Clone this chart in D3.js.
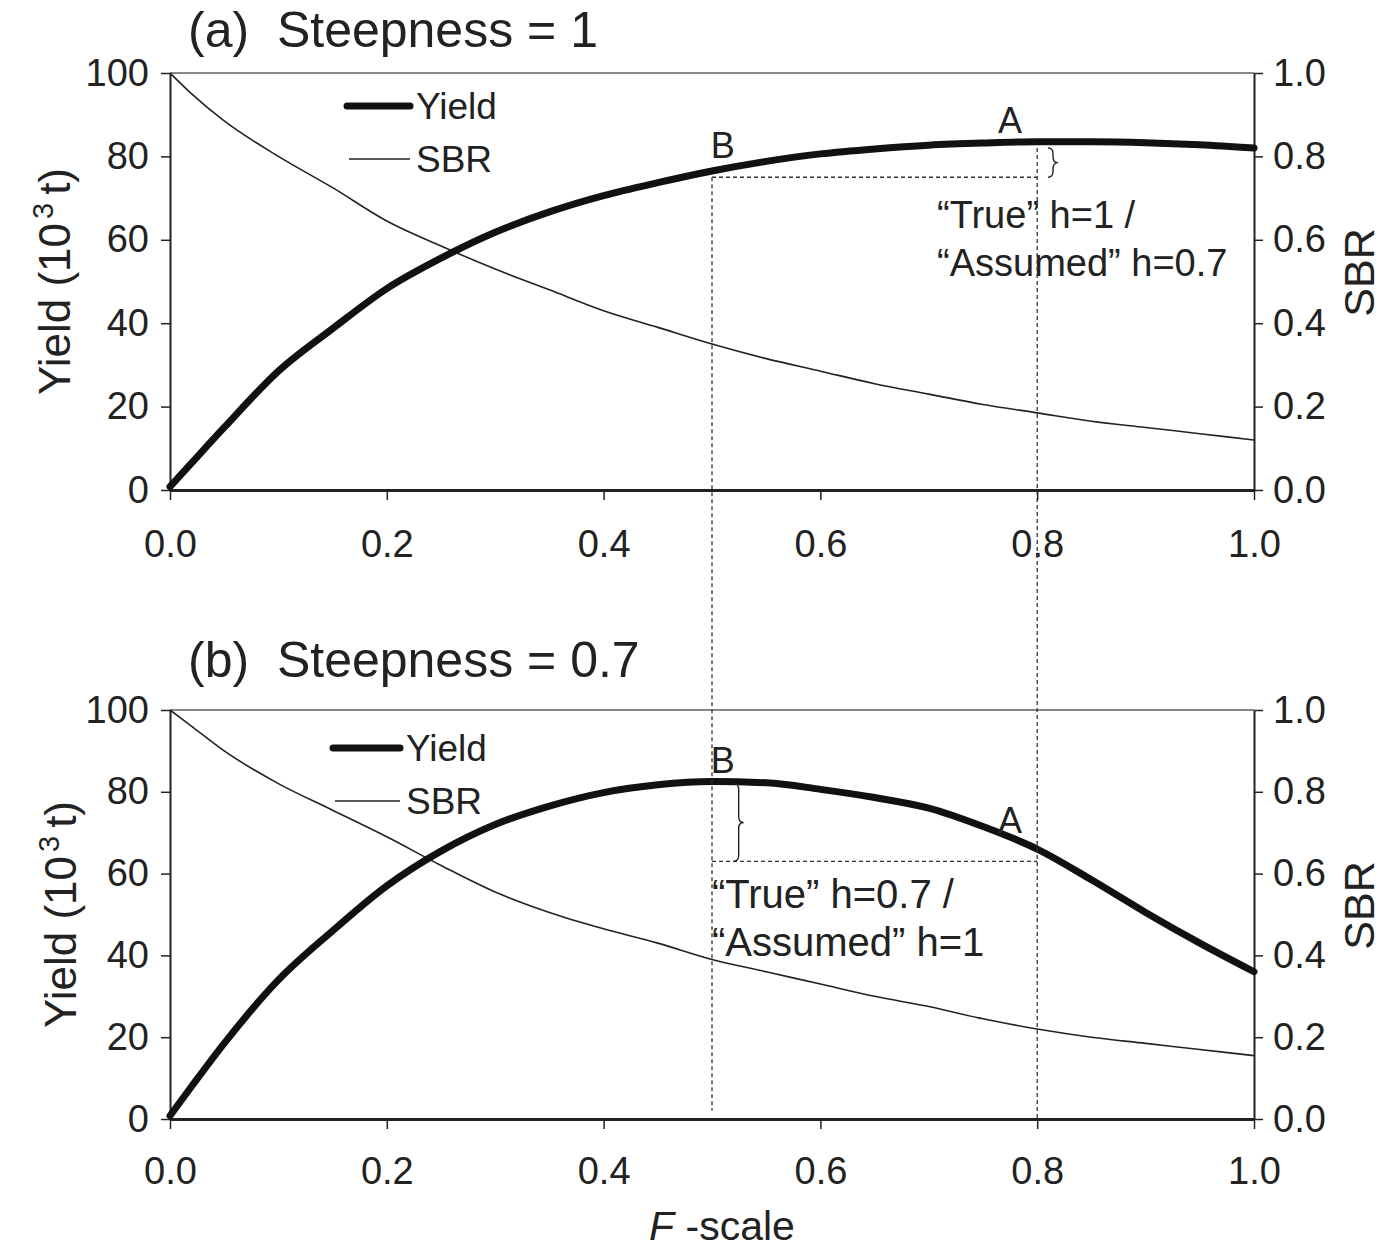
<!DOCTYPE html>
<html>
<head>
<meta charset="utf-8">
<script src="https://cdn.jsdelivr.net/npm/d3@7"></script>
<style>
  body { margin: 0; background: #fff; }
  text { font-family: "Liberation Sans", Arial, sans-serif; fill: #222; white-space: pre; }
</style>
</head>
<body>
<div id="chart"></div>
<script>

var fScale = [0, 0.02, 0.05, 0.1, 0.15, 0.2, 0.25, 0.3, 0.35, 0.4, 0.45, 0.5,
              0.55, 0.6, 0.65, 0.7, 0.75, 0.8, 0.85, 0.9, 0.95, 1.0];

// panel (a) steepness = 1
var yieldA = [0.8, 6.5, 15, 28.5, 38.7, 48.3, 55.6, 61.8, 66.7, 70.6, 73.7, 76.5,
              78.8, 80.6, 81.8, 82.7, 83.2, 83.5, 83.5, 83.3, 82.8, 82];
var sbrA   = [1.0, 0.95, 0.885, 0.80, 0.725, 0.645, 0.585, 0.53, 0.48, 0.43, 0.39, 0.35,
              0.315, 0.285, 0.255, 0.23, 0.205, 0.185, 0.165, 0.15, 0.135, 0.12];

// panel (b) steepness = 0.7
var yieldB = [0.8, 8, 18.5, 34, 46, 57, 65.5, 72, 76.5, 79.8, 81.7, 82.5,
              82.2, 80.6, 78.6, 76, 71.5, 66, 58.5, 50.5, 43, 36];
var sbrB   = [1.0, 0.96, 0.9, 0.82, 0.755, 0.69, 0.62, 0.555, 0.505, 0.465, 0.43, 0.39,
              0.36, 0.33, 0.30, 0.275, 0.245, 0.22, 0.2, 0.185, 0.17, 0.155];

// axis ticks
var xTicks = [0, 0.2, 0.4, 0.6, 0.8, 1.0];
var yieldTicks = [0, 20, 40, 60, 80, 100];
var sbrTicks = [0, 0.2, 0.4, 0.6, 0.8, 1.0];

// reference points B and A (F-scale) and the yield levels marked by the dashed lines
var refF = [0.5, 0.8];
var levelsA = [75, 82];   // B level, A level (brace ends)
var levelsB = [63, 82];   // dashed level, B level (brace ends)

var W = 1397, H = 1252;
var left = 170, right = 1254;

var svg = d3.select("#chart")
  .append("svg")
    .attr("width", W)
    .attr("height", H);

svg.append("rect").attr("width", W).attr("height", H).attr("fill", "#fff");

var x = d3.scaleLinear().domain([0, 1]).range([left, right]);

function bracePath(bx, y0, y1, w) {
  var ym = (y0 + y1) / 2, r = Math.min(6, (y1 - y0) / 4);
  return "M" + bx + "," + y0 +
    " Q" + (bx + w) + "," + y0 + " " + (bx + w) + "," + (y0 + r) +
    " L" + (bx + w) + "," + (ym - r) +
    " Q" + (bx + w) + "," + ym + " " + (bx + 2 * w) + "," + ym +
    " Q" + (bx + w) + "," + ym + " " + (bx + w) + "," + (ym + r) +
    " L" + (bx + w) + "," + (y1 - r) +
    " Q" + (bx + w) + "," + y1 + " " + bx + "," + y1;
}

function drawPanel(p) {
  var y = d3.scaleLinear().domain([0, 100]).range([p.bottom, p.top]);
  var y2 = d3.scaleLinear().domain([0, 1]).range([p.bottom, p.top]);
  var g = svg.append("g");

  // top frame line
  g.append("line")
    .attr("x1", left).attr("x2", right)
    .attr("y1", p.top).attr("y2", p.top)
    .attr("stroke", "#888").attr("stroke-width", 2);

  // left axis
  var la = g.append("g")
    .attr("transform", "translate(" + left + ",0)")
    .call(d3.axisLeft(y).tickValues(yieldTicks).tickSize(9).tickSizeOuter(0).tickPadding(12)
      .tickFormat(d3.format("d")));
  // right axis
  var ra = g.append("g")
    .attr("transform", "translate(" + right + ",0)")
    .call(d3.axisRight(y2).tickValues(sbrTicks).tickSize(9).tickSizeOuter(0).tickPadding(10)
      .tickFormat(d3.format(".1f")));
  // bottom axis
  var ba = g.append("g")
    .attr("transform", "translate(0," + p.bottom + ")")
    .call(d3.axisBottom(x).tickValues(xTicks).tickSize(10).tickSizeOuter(0).tickPadding(p.xPad)
      .tickFormat(d3.format(".1f")));

  [la, ra].forEach(function(a) {
    a.select(".domain").attr("stroke", "#222").attr("stroke-width", 2);
    a.selectAll(".tick line").attr("stroke", "#222").attr("stroke-width", 1.5);
  });
  ba.select(".domain").attr("stroke", "#222").attr("stroke-width", 3);
  ba.selectAll(".tick line").attr("stroke", "#222").attr("stroke-width", 1.5);
  g.selectAll(".tick text")
    .attr("font-size", 38)
    .attr("font-family", "Liberation Sans, Arial, sans-serif")
    .attr("fill", "#333");

  // curves
  var yieldLine = d3.line()
    .x(function(d, i) { return x(fScale[i]); })
    .y(function(d) { return y(d); })
    .curve(d3.curveMonotoneX);
  var sbrLine = d3.line()
    .x(function(d, i) { return x(fScale[i]); })
    .y(function(d) { return y2(d); })
    .curve(d3.curveMonotoneX);

  g.append("path")
    .datum(p.sbr)
    .attr("d", sbrLine)
    .attr("fill", "none").attr("stroke", "#222").attr("stroke-width", 1.6);
  g.append("path")
    .datum(p.yield)
    .attr("d", yieldLine)
    .attr("fill", "none").attr("stroke", "#111").attr("stroke-width", 7)
    .attr("stroke-linecap", "round");

  // title
  g.append("text")
    .attr("x", 188).attr("y", p.titleY)
    .attr("font-size", 50)
    .text(p.title);

  // left axis label
  var yl = g.append("text")
    .attr("transform", "translate(" + p.ylabX + "," + ((p.top + p.bottom) / 2) + ") rotate(-90)")
    .attr("text-anchor", "middle")
    .attr("font-size", 44);
  yl.append("tspan").text("Yield (10");
  yl.append("tspan").attr("font-size", 29).attr("dx", 4).attr("dy", -17).text("3");
  yl.append("tspan").attr("dx", 8).attr("dy", 17).text("t)");

  // right axis label
  g.append("text")
    .attr("transform", "translate(1374," + ((p.top + p.bottom) / 2 - 9) + ") rotate(-90)")
    .attr("text-anchor", "middle")
    .attr("font-size", 43)
    .text("SBR");

  // legend
  g.append("line")
    .attr("x1", p.legX).attr("x2", p.legX2)
    .attr("y1", p.legY).attr("y2", p.legY)
    .attr("stroke", "#111").attr("stroke-width", 7).attr("stroke-linecap", "round");
  g.append("text").attr("x", p.legX2 + 6).attr("y", p.legY + 13)
    .attr("font-size", 37).text("Yield");
  g.append("line")
    .attr("x1", p.legX + 2).attr("x2", p.legX2)
    .attr("y1", p.legY + 53).attr("y2", p.legY + 53)
    .attr("stroke", "#222").attr("stroke-width", 1.6);
  g.append("text").attr("x", p.legX2 + 6).attr("y", p.legY + 66)
    .attr("font-size", 37).text("SBR");

  // point labels
  p.points.forEach(function(pt) {
    g.append("text")
      .attr("x", x(pt.f)).attr("y", y(pt.v))
      .attr("text-anchor", "middle")
      .attr("font-size", 36)
      .text(pt.label);
  });

  // dashed level line between B and A
  g.append("line")
    .attr("x1", x(refF[0])).attr("x2", x(refF[1]))
    .attr("y1", y(p.dashLevel)).attr("y2", y(p.dashLevel))
    .attr("stroke", "#333").attr("stroke-width", 1.3)
    .attr("stroke-dasharray", "4,3");

  // brace
  g.append("path")
    .attr("d", bracePath(x(p.braceF), y(p.levels[1]), y(p.levels[0]), 5))
    .attr("fill", "none").attr("stroke", "#222").attr("stroke-width", 1.4);

  // annotation text
  p.note.forEach(function(t, i) {
    g.append("text")
      .attr("x", p.noteX).attr("y", p.noteY + i * 48)
      .attr("font-size", p.noteSize)
      .text(t);
  });

  return y;
}

var yA = drawPanel({
  top: 73, bottom: 490, title: "(a)  Steepness = 1", titleY: 47, xPad: 30, ylabX: 70,
  yield: yieldA, sbr: sbrA,
  legX: 347, legX2: 410, legY: 106,
  points: [{label: "B", f: 0.51, v: 79.5}, {label: "A", f: 0.775, v: 85.5}],
  dashLevel: levelsA[0], levels: levelsA, braceF: 0.81,
  note: ["\u201CTrue\u201D h=1 /", "\u201CAssumed\u201D h=0.7"], noteX: 937, noteY: 228, noteSize: 38
});

var yB = drawPanel({
  top: 710, bottom: 1119, title: "(b)  Steepness = 0.7", titleY: 677, xPad: 28, ylabX: 76,
  yield: yieldB, sbr: sbrB,
  legX: 333, legX2: 400, legY: 748,
  points: [{label: "B", f: 0.51, v: 84.5}, {label: "A", f: 0.775, v: 70}],
  dashLevel: levelsB[0], levels: levelsB, braceF: 0.52,
  note: ["\u201CTrue\u201D h=0.7 /", "\u201CAssumed\u201D h=1"], noteX: 712, noteY: 908, noteSize: 40
});

// vertical dashed lines at B and A running through both panels
[{f: refF[0], top: yA(levelsA[0]), bottom: yB(2)},
 {f: refF[1], top: yA(levelsA[1]), bottom: yB(0)}].forEach(function(d) {
  svg.append("line")
    .attr("x1", x(d.f)).attr("x2", x(d.f))
    .attr("y1", d.top).attr("y2", d.bottom)
    .attr("stroke", "#333").attr("stroke-width", 1.3)
    .attr("stroke-dasharray", "4,3");
});

// x axis title
var xt = svg.append("text")
  .attr("x", 722).attr("y", 1240)
  .attr("text-anchor", "middle")
  .attr("font-size", 41);
xt.append("tspan").attr("font-style", "italic").text("F");
xt.append("tspan").text(" -scale");

</script>
</body>
</html>
